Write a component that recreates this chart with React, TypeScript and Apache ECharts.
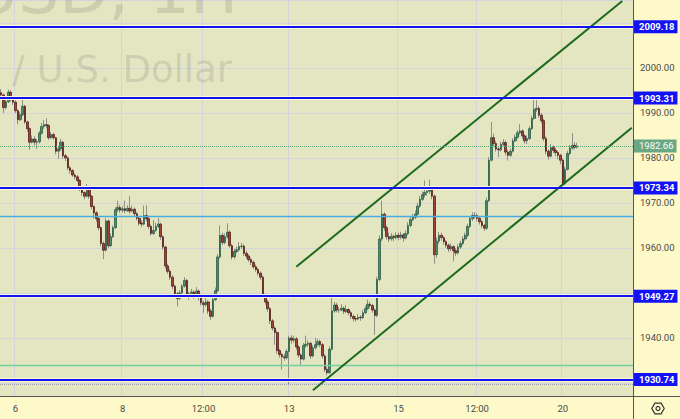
import React, { useEffect, useRef } from 'react';
import * as echarts from 'echarts';

// ---- data (hourly candles, each [close, low, high]; open = previous close) ----
const firstOpen = 1994.5;
const nov3 = [[1994, 1993, 1995.3], [1991.2, 1990, 1994.3], [1992.5, 1990.8, 1993], [1994.6, 1992.2, 1995.2], [1993, 1992.5, 1995], [1992.4, 1991.8, 1993.5]];
const nov6 = [[1990.5, 1990, 1992.8], [1988.5, 1987.5, 1990.8], [1989.6, 1988.2, 1990.3], [1991.5, 1989.3, 1993], [1988, 1987.6, 1991.8], [1986.5, 1985.8, 1988.3], [1983.5, 1981.8, 1986.8], [1984.2, 1983.2, 1985], [1983.5, 1982.8, 1984.8], [1983.6, 1982, 1984.2], [1985.5, 1983.2, 1986], [1987, 1985.2, 1987.8], [1987.4, 1986.5, 1988.4], [1987.2, 1986.6, 1988.8], [1984.5, 1984, 1987.5], [1985.2, 1984.2, 1985.8], [1984.5, 1984, 1985.6], [1981.5, 1980.8, 1984.7], [1982, 1979.8, 1982.6], [1983.5, 1981.6, 1984.2], [1980.5, 1979.8, 1983.8], [1980, 1979.3, 1980.9], [1977.8, 1977.3, 1980.3]];
const nov7 = [[1977.2, 1976.5, 1978.2], [1976.2, 1975.8, 1977.5], [1975.8, 1975.2, 1976.6], [1975, 1974.6, 1976.2], [1973, 1972.6, 1975.3], [1972.3, 1971.6, 1973.4], [1971.5, 1970.8, 1972.6], [1973.5, 1971.2, 1974.2], [1971.5, 1970.9, 1973.8], [1969.2, 1968.6, 1971.7], [1967.8, 1966.5, 1969.5], [1966.5, 1965.8, 1968.2], [1964.5, 1963.9, 1966.8], [1961, 1960.4, 1964.8], [1959.5, 1957.5, 1961.5], [1966, 1959.2, 1966.6], [1960.5, 1960, 1966.3], [1962.5, 1960.2, 1963.2], [1964.5, 1962.2, 1965], [1968.5, 1964.2, 1969], [1969, 1968, 1970.5], [1968.4, 1967.8, 1969.6], [1968.7, 1967.9, 1969.3]];
const nov8 = [[1968.3, 1967.7, 1970.5], [1968.8, 1968, 1969.5], [1968.2, 1967.6, 1971.5], [1968.6, 1967.9, 1969.4], [1967.6, 1967.1, 1969], [1966.6, 1966.1, 1968], [1965.5, 1964.9, 1967], [1965.3, 1964.6, 1966.2], [1967.2, 1965, 1969.4], [1966.5, 1965.9, 1969.5], [1964.8, 1964.2, 1966.9], [1963.2, 1962.7, 1965.2], [1963.9, 1962.9, 1966.2], [1964.8, 1963.6, 1965.6], [1965.3, 1964.4, 1966.6], [1962.5, 1961.8, 1965.6], [1960.2, 1959.6, 1962.8], [1956, 1955.4, 1960.5], [1954.8, 1954.2, 1956.5], [1953.5, 1952.9, 1955.3], [1951.5, 1950.8, 1954], [1949.8, 1949, 1951.9], [1948.8, 1947, 1950.2]];
const nov9 = [[1950, 1948.4, 1950.6], [1951.5, 1949.6, 1952], [1952.8, 1951.2, 1953.5], [1949.8, 1949.2, 1953.1], [1949.3, 1948.5, 1950.3], [1950.2, 1948.9, 1950.9], [1949.6, 1948.7, 1950.6], [1950.4, 1949.2, 1951.3], [1949.4, 1948.3, 1950.8], [1947.8, 1947.2, 1949.8], [1947.4, 1945.6, 1948.3], [1948, 1946.9, 1948.9], [1946, 1945.3, 1948.4], [1944.8, 1944, 1946.5], [1948.5, 1944.5, 1949.1], [1950.5, 1948.2, 1951.2], [1958, 1950.2, 1958.6], [1962.8, 1957.6, 1965], [1961.2, 1960.6, 1963.4], [1962.5, 1960.8, 1963.2], [1963.5, 1962, 1965.5], [1960.5, 1960, 1963.9], [1958, 1957.4, 1960.9]];
const nov10 = [[1959.2, 1957.6, 1959.8], [1959.6, 1958.8, 1960.3], [1960.3, 1959.2, 1961.3], [1960.4, 1959.8, 1961.1], [1958.8, 1958.2, 1960.8], [1958.2, 1957.6, 1959.4], [1957.4, 1956.9, 1958.6], [1956.8, 1956.2, 1957.9], [1955.8, 1955.3, 1957.2], [1955.2, 1954.7, 1956.3], [1954.4, 1953.9, 1955.6], [1953.5, 1952.9, 1954.8], [1949.5, 1948.9, 1953.9], [1948, 1947.4, 1949.9], [1946.5, 1945.8, 1948.4], [1943.8, 1943.1, 1946.9], [1942.2, 1941.6, 1944.2], [1941.2, 1938.5, 1942.6], [1937.2, 1936.5, 1941.6], [1936.3, 1935.6, 1937.6], [1935.8, 1933, 1936.7], [1935.6, 1934.9, 1936.4], [1937, 1935.2, 1937.6]];
const nov13 = [[1940, 1929.7, 1940.5], [1939.5, 1938.7, 1940.6], [1939.8, 1938.9, 1940.5], [1938, 1937.4, 1940.2], [1936.2, 1935.6, 1938.4], [1935.3, 1934, 1936.6], [1938.3, 1935, 1938.9], [1938.6, 1937.8, 1940.5], [1938.8, 1938, 1939.5], [1936, 1935.4, 1939.2], [1937.8, 1935.7, 1938.4], [1938.5, 1937.4, 1940], [1939.2, 1938.2, 1939.8], [1938.5, 1937.9, 1939.6], [1936, 1935.4, 1938.9], [1933, 1932.4, 1936.4], [1932.3, 1931.7, 1933.6], [1937.5, 1932, 1938.1], [1946, 1937.2, 1949.2], [1947.3, 1945.6, 1948], [1946.2, 1945.7, 1947.8], [1946.2, 1945.6, 1946.9], [1946.6, 1945.9, 1947.5]];
const nov14 = [[1945.9, 1945.3, 1947], [1946.3, 1945.5, 1947.3], [1945.6, 1945, 1946.6], [1944.8, 1944.2, 1946], [1944.3, 1943.7, 1945.2], [1944.2, 1943.6, 1944.9], [1944.6, 1943.9, 1945.3], [1944.5, 1943.8, 1945.1], [1945.6, 1944.2, 1946.2], [1946.5, 1945.3, 1947.1], [1947.5, 1946.2, 1948.5], [1947.2, 1946.6, 1948.1], [1946.2, 1945.6, 1947.6], [1945, 1940.7, 1946.6], [1953, 1944.6, 1953.6], [1962, 1952.6, 1962.8], [1967.5, 1961.5, 1970.5], [1964.5, 1963.8, 1967.9], [1962.5, 1961.8, 1965], [1962, 1961.3, 1963.4], [1962.6, 1961.6, 1963.3], [1962.3, 1961.5, 1963], [1962.8, 1961.9, 1963.5]];
const nov15 = [[1962.4, 1961.7, 1963.4], [1962.9, 1961.9, 1963.6], [1962.2, 1961.4, 1963.3], [1963.2, 1961.9, 1963.9], [1965, 1962.8, 1965.7], [1966.3, 1964.6, 1967], [1966.8, 1965.9, 1967.6], [1967.5, 1966.4, 1968.3], [1969.3, 1967.2, 1970], [1970.8, 1968.9, 1971.6], [1971.8, 1970.4, 1972.6], [1972.3, 1971.2, 1975], [1972.6, 1971.6, 1973.4], [1973, 1972, 1975.2], [1971.5, 1970.8, 1973.6], [1958.5, 1956.5, 1971.9], [1961.5, 1957.8, 1962.3], [1962.8, 1960.9, 1963.6], [1962.3, 1961.6, 1963.4], [1961.4, 1960.7, 1962.6], [1960.6, 1960, 1961.8], [1959.8, 1959.1, 1961], [1960.3, 1959.3, 1961]];
const nov16 = [[1959.4, 1957, 1960.6], [1958.9, 1958.2, 1960], [1960.2, 1958.5, 1960.8], [1961, 1959.8, 1961.6], [1962, 1960.6, 1962.6], [1962.8, 1961.6, 1963.4], [1964.8, 1962.4, 1965.4], [1966.5, 1964.4, 1967.1], [1967.2, 1966, 1967.9], [1967.2, 1966.5, 1968], [1966.6, 1965.9, 1967.7], [1965.8, 1965.2, 1967], [1965, 1964.4, 1966.2], [1964.4, 1963.8, 1965.3], [1970.5, 1964, 1971.2], [1979.5, 1970.2, 1980.2], [1984.5, 1979.2, 1988], [1983.2, 1982.6, 1985.4], [1982, 1981.4, 1983.8], [1981.8, 1980.2, 1982.6], [1983, 1981.4, 1983.6], [1983.4, 1982.6, 1984.2], [1981.3, 1980.6, 1983.9]];
const nov17 = [[1980.6, 1979.4, 1981.8], [1981.5, 1980.2, 1982.1], [1983.8, 1981.2, 1984.4], [1984.6, 1983.5, 1985.2], [1985.6, 1984.3, 1986.2], [1986, 1985.2, 1987.5], [1984.9, 1984.3, 1986.4], [1983.8, 1983.2, 1985.3], [1984.3, 1983.1, 1985], [1986.5, 1984, 1987.1], [1988.8, 1986.2, 1989.4], [1990.8, 1988.5, 1993], [1991, 1990.2, 1993.3], [1989.5, 1988.9, 1991.6], [1988.3, 1987.7, 1990], [1984.3, 1983.7, 1988.7], [1981.5, 1980.8, 1984.8], [1980.4, 1979.6, 1981.9], [1982.3, 1980.1, 1983.1], [1981.7, 1981.1, 1982.8], [1981.2, 1980.4, 1982.2], [1980.6, 1979.7, 1981.6], [1979.5, 1978.6, 1980.9]];
const nov20 = [[1974.3, 1973.3, 1979.9], [1977.5, 1974, 1978.1], [1981, 1977.2, 1981.6], [1982.2, 1980.6, 1982.9], [1982.8, 1981.7, 1985.5], [1982.4, 1981.9, 1983.5], [1982.66, 1982.1, 1983.4]];

const tickIdx = [6, 51, 85, 121, 167, 200, 236];
const tickText = ['6', '8', '12:00', '13', '15', '12:00', '20'];
const slotCount = 266;

const levels = [2009.18, 1993.31, 1973.34, 1949.27, 1930.74];
const lastPrice = 1982.66;
const guideBlue = 1967.1;
const guideGreen = 1934.0;
const guideDotted = 1929.8;
const channelUpper = [[124, 1955.8], [261, 2014.9]];
const channelLower = [[131, 1928.4], [265, 1986.7]];
const yMin = 1927.1;
const yMax = 2015.1;
const hiddenYLabels = [2010, 1950, 1930];

const FONT = 'Roboto, "Liberation Sans", sans-serif';
const WM_FONT = '"DejaVu Sans", sans-serif';

export default function App() {
  const ref = useRef<HTMLDivElement>(null);
  useEffect(() => {
    if (!ref.current) return;
    const chart = echarts.init(ref.current, undefined, { renderer: 'svg' });
    const bars = [nov3, nov6, nov7, nov8, nov9, nov10, nov13, nov14, nov15, nov16, nov17, nov20].flat();
    const ohlc: number[][] = [];
    let prev = firstOpen;
    bars.forEach(([c, l, h]) => {
      ohlc.push([prev, c, l, h]);
      prev = c;
    });
    const bodies = ohlc.map(([o, c]) => [o, c, Math.min(o, c), Math.max(o, c)]);
    const categories = Array.from({ length: slotCount }, (_, i) => String(i));
    const labelOf = (i: number) => {
      const k = tickIdx.indexOf(i);
      return k >= 0 ? tickText[k] : '';
    };

    const blueTag = {
      show: true,
      position: 'end',
      distance: 0,
      formatter: (p: any) => Number(p.value).toFixed(2),
      backgroundColor: '#1212f5',
      color: '#ffffff',
      fontWeight: 'bold',
      fontSize: 9.5,
      fontFamily: FONT,
      lineHeight: 10,
      padding: [2, 3, 1, 6],
    };
    const noLabel = { show: false };

    const cx = 658;
    const cy = 408.5;
    const r = 6.2;
    const hex = Array.from({ length: 6 }, (_, k) => [cx + r * Math.cos((k * Math.PI) / 3), cy + r * Math.sin((k * Math.PI) / 3)]);

    chart.setOption({
      animation: false,
      backgroundColor: '#fdf9c9',
      grid: { left: 0, right: 47, top: 0, bottom: 23, show: true, backgroundColor: '#e4e6c2', borderWidth: 0 },
      xAxis: {
        type: 'category',
        data: categories,
        boundaryGap: true,
        axisLine: { show: false },
        axisTick: { show: false },
        axisLabel: {
          interval: (i: number) => tickIdx.includes(i),
          formatter: (_v: string, i: number) => labelOf(i),
          color: '#4a4a4a',
          fontSize: 9.5,
          fontFamily: FONT,
          margin: 7,
        },
        splitLine: { show: true, interval: (i: number) => tickIdx.includes(i), lineStyle: { color: '#d2d6da', width: 1 } },
      },
      yAxis: {
        type: 'value',
        position: 'right',
        min: yMin,
        max: yMax,
        minInterval: 10,
        maxInterval: 10,
        axisLine: { show: false },
        axisTick: { show: false },
        axisLabel: {
          color: '#4a4a4a',
          fontSize: 9.5,
          fontFamily: FONT,
          margin: 7,
          showMinLabel: false,
          showMaxLabel: false,
          formatter: (v: number) => {
            const r10 = Math.round(v / 10) * 10;
            if (Math.abs(v - r10) > 1e-6 || hiddenYLabels.includes(r10)) return '';
            return v.toFixed(2);
          },
        },
        splitLine: { show: true, lineStyle: { color: '#d2d6da', width: 1 } },
      },
      series: [
        {
          type: 'candlestick',
          name: 'wicks',
          data: ohlc,
          barWidth: 1,
          itemStyle: { color: '#8f8f89', color0: '#8f8f89', borderColor: '#8f8f89', borderColor0: '#8f8f89', borderWidth: 1 },
          markLine: {
            silent: true,
            symbol: ['none', 'none'],
            animation: false,
            label: noLabel,
            lineStyle: { color: '#f8f8d4', width: 4, type: 'solid' },
            data: levels.map((v) => ({ yAxis: v })),
          },
        },
        {
          type: 'candlestick',
          name: 'XAUUSD',
          data: bodies,
          barWidth: '88%',
          itemStyle: { color: '#4a8d6d', color0: '#a1433a', borderColor: '#2f5f47', borderColor0: '#561f1a', borderWidth: 0.8 },
          markLine: {
            silent: true,
            symbol: ['none', 'none'],
            animation: false,
            data: [
              { yAxis: guideBlue, lineStyle: { color: '#49ace0', width: 1.3, type: 'solid' }, label: noLabel },
              { yAxis: guideGreen, lineStyle: { color: '#74d0a0', width: 1.3, type: 'solid' }, label: noLabel },
              { yAxis: guideDotted, lineStyle: { color: '#9aa0a6', width: 1, type: 'dotted' }, label: noLabel },
              [
                { coord: channelUpper[0], lineStyle: { color: '#1d6a1d', width: 2, type: 'solid' }, label: noLabel },
                { coord: channelUpper[1] },
              ],
              [
                { coord: channelLower[0], lineStyle: { color: '#1d6a1d', width: 2, type: 'solid' }, label: noLabel },
                { coord: channelLower[1] },
              ],
              ...levels.map((v) => ({ yAxis: v, lineStyle: { color: '#1212f5', width: 2, type: 'solid' }, label: blueTag })),
              {
                yAxis: lastPrice,
                lineStyle: { color: '#5aa57a', width: 1, type: 'dotted' },
                label: { ...blueTag, backgroundColor: '#6aa883', fontWeight: 'normal', color: '#ffffff' },
              },
            ],
          },
        },
      ],
      graphic: [
        {
          type: 'text',
          z: 1,
          silent: true,
          x: 238,
          y: -9.5,
          style: { text: 'XAUUSD, 1H', fill: 'rgba(110,110,100,0.2)', font: `64px ${WM_FONT}`, align: 'right', verticalAlign: 'middle' },
        },
        {
          type: 'text',
          z: 1,
          silent: true,
          x: 232,
          y: 69,
          style: { text: 'Gold Spot / U.S. Dollar', fill: 'rgba(110,110,100,0.2)', font: `37px ${WM_FONT}`, align: 'right', verticalAlign: 'middle' },
        },
        { type: 'line', z: 10, silent: true, shape: { x1: 0, y1: 396.5, x2: 680, y2: 396.5 }, style: { stroke: '#555555', lineWidth: 1 } },
        { type: 'line', z: 10, silent: true, shape: { x1: 633.5, y1: 0, x2: 633.5, y2: 419 }, style: { stroke: '#555555', lineWidth: 1 } },
        { type: 'polygon', z: 10, silent: true, shape: { points: hex }, style: { fill: 'none', stroke: '#333333', lineWidth: 1.2 } },
        { type: 'circle', z: 10, silent: true, shape: { cx, cy, r: 2 }, style: { fill: 'none', stroke: '#333333', lineWidth: 1.2 } },
      ],
    });
    return () => chart.dispose();
  }, []);
  return <div ref={ref} style={{ position: 'fixed', left: 0, top: 0, width: 680, height: 419 }} />;
}
